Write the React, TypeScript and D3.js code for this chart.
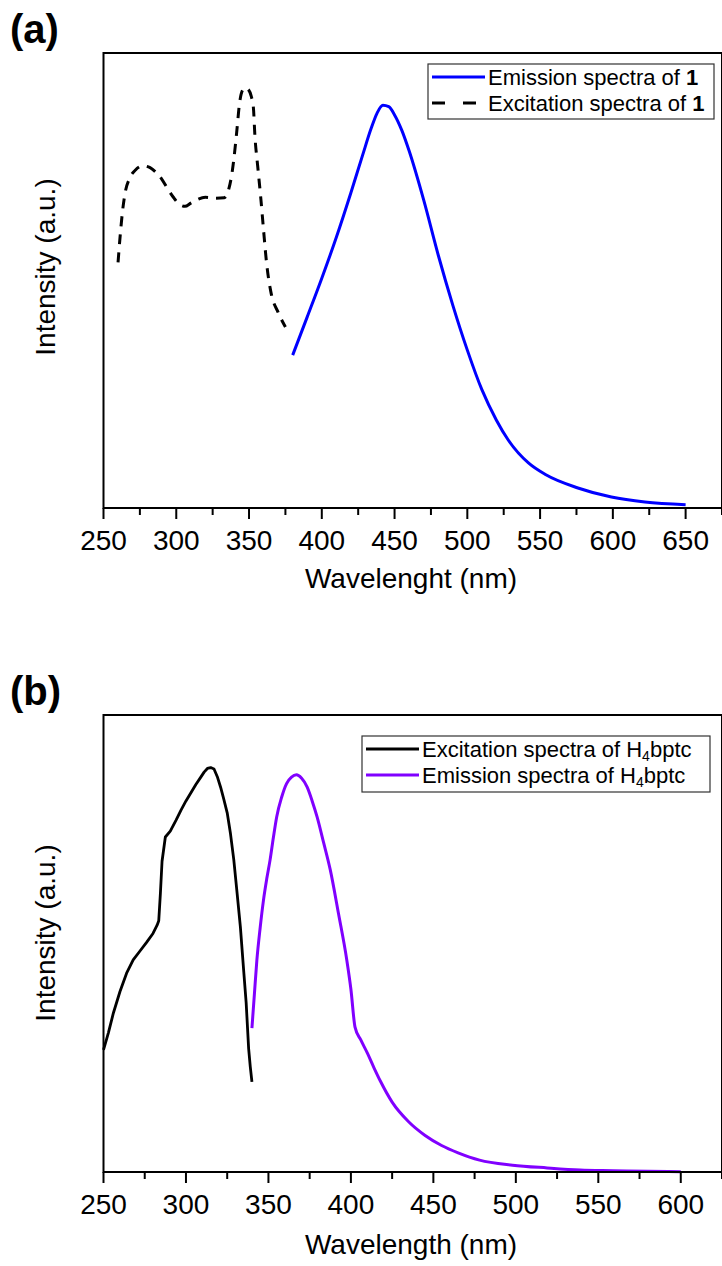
import React from 'react';
import * as d3 from 'd3';

// (a) complex 1, [wavelength nm, intensity a.u.]
const emission1: [number, number][] = [
  [380, 33.6], [390, 42], [400, 50.5], [410, 59.5], [420, 69.3], [428, 77.5], [434, 83.5],
  [438, 86.8], [442, 88.5], [446, 88.2], [450, 86.4], [455, 83], [460, 78.5], [470, 67.7],
  [480, 55.6], [490, 44.6], [500, 34.7], [510, 26], [520, 19.3], [528, 15], [542, 9.9],
  [554, 7.3], [576, 4.4], [599, 2.4], [622, 1.3], [650, 0.7],
];
const excitation1: [number, number][] = [
  [260, 54], [261.5, 60], [263, 65], [265, 69.5], [268, 72.5], [272, 74.3], [277, 75.2],
  [282, 74.8], [286, 73.8], [290, 72.3], [294, 70.2], [298, 68.3], [302, 66.8], [306, 66.3],
  [310, 67], [314, 67.7], [320, 68.3], [327, 68.1], [333, 68.2], [336, 70], [338, 73],
  [339.5, 76.5], [341.5, 82.5], [343.5, 89], [345.5, 91.8], [347.5, 92.4], [349.5, 92],
  [351.5, 90.5], [353, 88], [354, 82], [356, 75], [358, 68.4], [360, 61], [362, 54],
  [365, 47.5], [370, 43], [375, 39.8],
];

// (b) free ligand H4bptc
const excitationH4: [number, number][] = [
  [250, 26.7], [253, 30.5], [256, 34.8], [260, 39.5], [264, 43.5], [268, 46.4], [272, 48.3],
  [276, 50.2], [280, 52.2], [282.5, 54], [283.5, 55], [284.5, 61], [285.5, 68], [287.5, 73.3],
  [290.5, 74.6], [294, 77], [297, 79.2], [300, 81.2], [303, 83], [306, 84.8], [309, 86.4],
  [311, 87.5], [313, 88.3], [315, 88.5], [317, 88.2], [319, 86.5], [321, 84.2], [323, 81.5],
  [325, 78.6], [327, 74], [329, 68.3], [331, 61], [333, 53.6], [335, 44], [336.5, 37],
  [338, 27], [339, 23], [340, 19.7],
];
const emissionH4: [number, number][] = [
  [340, 31.5], [341.5, 39], [343, 46.4], [345, 53.5], [347, 59.5], [349, 64.2], [351, 68.3],
  [353, 73.2], [355, 77.7], [358, 82], [361, 85], [364, 86.4], [367, 86.9], [370, 86.2],
  [373.5, 84.2], [376.5, 81.2], [379.5, 77.7], [383.5, 72], [387.5, 66.1], [392.5, 56.5],
  [397.5, 46.4], [400, 40], [402.5, 31.7], [406, 28.9], [410, 26], [414, 22.8], [418, 19.8],
  [425, 15.3], [435, 11], [445, 8], [455, 5.8], [465, 4.2], [478, 2.6], [498, 1.5],
  [519, 0.9], [539, 0.45], [559, 0.3], [580, 0.15], [600, 0.07],
];

const ticksA = [250, 300, 350, 400, 450, 500, 550, 600, 650];
const minorA = [275, 325, 375, 425, 475, 525, 575, 625, 675];
const ticksB = [250, 300, 350, 400, 450, 500, 550, 600];
const minorB = [275, 325, 375, 425, 475, 525, 575, 625];

const FONT = '"Liberation Sans", Arial, Helvetica, sans-serif';

type Series = {
  data: [number, number][];
  color: string;
  width: number;
  dash?: string;
  smooth?: boolean;
};

type LegendRow = { series: Series; label: React.ReactNode };

type PanelProps = {
  tag: string;
  top: number;
  bottom: number;
  xMax: number;
  ticks: number[];
  minor: number[];
  xTitle: string;
  titleY: number;
  yTitleY: number;
  series: Series[];
  legend: { x: number; y: number; w: number; h: number; rows: LegendRow[] };
};

const LEFT = 103.5;
const RIGHT = 722;

function Panel(p: PanelProps) {
  const x = d3.scaleLinear().domain([250, p.xMax]).range([LEFT, RIGHT]);
  const y = d3.scaleLinear().domain([0, 100]).range([p.bottom, p.top]);

  return (
    <g fontFamily={FONT}>
      <text x={10} y={p.top - 10} fontSize={40} fontWeight="bold">{p.tag}</text>

      {p.series.map((s, i) => {
        const line = d3
          .line<[number, number]>()
          .x(d => x(d[0]))
          .y(d => y(d[1]))
          .curve(s.smooth ? d3.curveMonotoneX : d3.curveLinear);
        return (
          <path
            key={i}
            d={line(s.data) || ''}
            fill="none"
            stroke={s.color}
            strokeWidth={s.width}
            strokeDasharray={s.dash}
            strokeLinejoin="round"
          />
        );
      })}

      {/* frame */}
      <rect x={LEFT} y={p.top} width={RIGHT - LEFT} height={p.bottom - p.top}
        fill="none" stroke="#000" strokeWidth={2} />

      {/* bottom ticks */}
      {p.ticks.map(t => (
        <g key={t}>
          <line x1={x(t)} x2={x(t)} y1={p.bottom} y2={p.bottom + 11} stroke="#000" strokeWidth={2} />
          <text x={x(t)} y={p.bottom + 42} fontSize={28} textAnchor="middle">{t}</text>
        </g>
      ))}
      {p.minor.map(t => (
        <line key={t} x1={x(t)} x2={x(t)} y1={p.bottom} y2={p.bottom + 7} stroke="#000" strokeWidth={2} />
      ))}

      <text x={411} y={p.titleY} fontSize={28} textAnchor="middle">{p.xTitle}</text>
      <text transform={`translate(55,${p.yTitleY}) rotate(-90)`} fontSize={28} textAnchor="middle">
        Intensity (a.u.)
      </text>

      {/* legend */}
      <rect x={p.legend.x} y={p.legend.y} width={p.legend.w} height={p.legend.h}
        fill="#fff" stroke="#333" strokeWidth={1.2} />
      {p.legend.rows.map((r, i) => {
        const ry = p.legend.y + 13 + i * 26;
        return (
          <g key={i}>
            <line x1={p.legend.x + 4} x2={p.legend.x + 57} y1={ry} y2={ry}
              stroke={r.series.color} strokeWidth={r.series.width}
              strokeDasharray={r.series.dash ? '13,18' : undefined} />
            <text x={p.legend.x + 60} y={ry + 8} fontSize={22}>{r.label}</text>
          </g>
        );
      })}
    </g>
  );
}

const sub4 = <tspan baselineShift="-4" fontSize={14}>4</tspan>;

export default function App() {
  const emA: Series = { data: emission1, color: '#0000ff', width: 3, smooth: true };
  const exA: Series = { data: excitation1, color: '#000', width: 3, dash: '10,8', smooth: true };
  const exB: Series = { data: excitationH4, color: '#000', width: 2.8 };
  const emB: Series = { data: emissionH4, color: '#8000ff', width: 3, smooth: true };

  return (
    <div style={{ position: 'absolute', left: 0, top: 0 }}>
      <svg width={722} height={1266} style={{ display: 'block', background: '#fff' }}>
        <Panel
          tag="(a)"
          top={53}
          bottom={508}
          xMax={675}
          ticks={ticksA}
          minor={minorA}
          xTitle="Wavelenght (nm)"
          titleY={588}
          yTitleY={267}
          series={[exA, emA]}
          legend={{
            x: 428, y: 64, w: 286, h: 55,
            rows: [
              { series: emA, label: <>Emission spectra of <tspan fontWeight="bold">1</tspan></> },
              { series: exA, label: <>Excitation spectra of <tspan fontWeight="bold">1</tspan></> },
            ],
          }}
        />
        <Panel
          tag="(b)"
          top={715}
          bottom={1172}
          xMax={625}
          ticks={ticksB}
          minor={minorB}
          xTitle="Wavelength (nm)"
          titleY={1254}
          yTitleY={933}
          series={[exB, emB]}
          legend={{
            x: 362, y: 736, w: 348, h: 56,
            rows: [
              { series: exB, label: <>Excitation spectra of H{sub4}bptc</> },
              { series: emB, label: <>Emission spectra of H{sub4}bptc</> },
            ],
          }}
        />
      </svg>
    </div>
  );
}
